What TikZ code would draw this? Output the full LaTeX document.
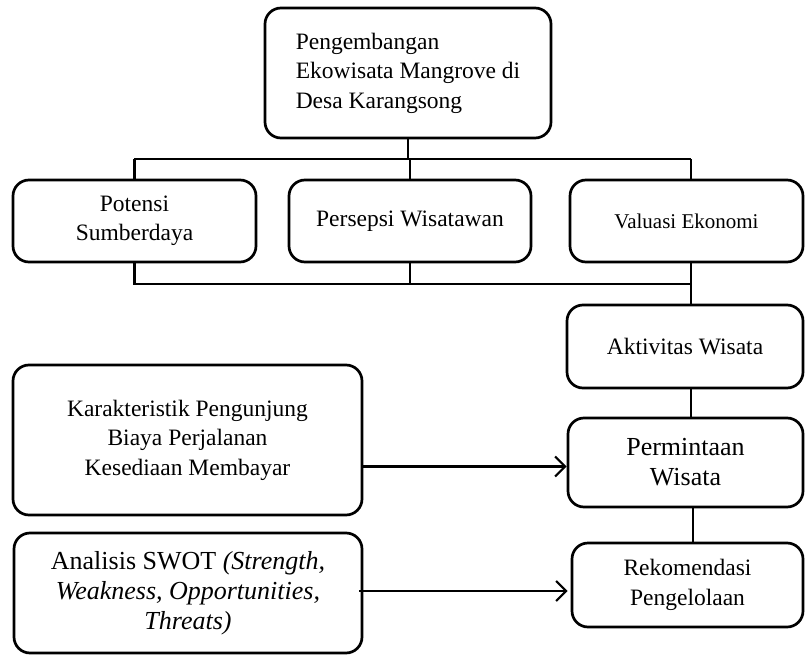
\documentclass[tikz,border=0pt]{standalone}
\usepackage{fontspec}
\setmainfont{Liberation Serif}
\usetikzlibrary{arrows.meta,positioning}

\begin{document}
\begin{tikzpicture}[x=1pt,y=-1pt,>={Straight Barb[length=10pt,width=20pt,line width=2.2pt]},line width=2.4pt]
 \tikzstyle{box}=[draw,rounded corners=16pt,line width=2.7pt,align=center,inner sep=0pt,font=\fontsize{23.5}{29.5}\selectfont]
 \tikzstyle{big}=[font=\fontsize{26}{30}\selectfont]
 \tikzstyle{small}=[font=\fontsize{21}{26}\selectfont]
 \tikzstyle{link}=[line width=2.4pt]

 \useasboundingbox (0,0) rectangle (805,655);

   % kotak utama
   \node[box,align=left,minimum width=286pt,minimum height=130pt] (dev) at (408,73) {Pengembangan\\Ekowisata Mangrove di\\Desa Karangsong};
   \node[box,minimum width=243pt,minimum height=82pt] (pot) at (134.5,221) {Potensi\\Sumberdaya};
   \node[box,minimum width=242pt,minimum height=82pt] (per) at (410,221) {Persepsi Wisatawan};
   \node[box,small,minimum width=233pt,minimum height=82pt] (val) at (686.5,221) {Valuasi Ekonomi};
   \node[box,minimum width=236pt,minimum height=83pt] (akt) at (685,346.5) {Aktivitas Wisata};
   \node[box,big,minimum width=235pt,minimum height=89pt] (perm) at (685.5,462.5) {Permintaan\\Wisata};
   \node[box,minimum width=231pt,minimum height=84pt] (rek) at (687.5,585) {Rekomendasi\\Pengelolaan};
   \node[box,minimum width=349pt,minimum height=150pt] (kar) at (187.5,440) {Karakteristik Pengunjung\\Biaya Perjalanan\\Kesediaan Membayar};
   \node[box,big,minimum width=348pt,minimum height=120pt] (swot) at (188,593) {Analisis SWOT \textit{(Strength,}\\\textit{Weakness, Opportunities,}\\\textit{Threats)}};

   % garis penghubung
   \coordinate (tl) at (134,159);
   \coordinate (tr) at (691,159);
   \coordinate (br) at (691,284);
   \draw[link] (tl) -- (tr);
   \draw[link] (dev.south) -- (dev.south |- tl);
   \draw[link] (pot.north) -- (pot.north |- tl);
   \draw[link] (per.north) -- (per.north |- tl);
   \draw[link] (tr) -- (tr |- val.north);
   \draw[link] (pot.south) |- (br);
   \draw[link] (per.south) -- (per.south |- br);
   \draw[link] (tr |- val.south) -- (tr |- akt.north);
   \draw[link] (tr |- akt.south) -- (tr |- perm.north);
   \draw[link] ([xshift=2pt]tr |- perm.south) -- ([xshift=2pt]tr |- rek.north);

   \draw[link,->] ([yshift=-4pt]perm.west -| kar.east) -- ([yshift=-4pt]perm.west);
   \draw[link,->] ([xshift=-4pt,yshift=-6pt]rek.west -| swot.east) -- ([xshift=-3pt,yshift=-6pt]rek.west);

\end{tikzpicture}
\end{document}
